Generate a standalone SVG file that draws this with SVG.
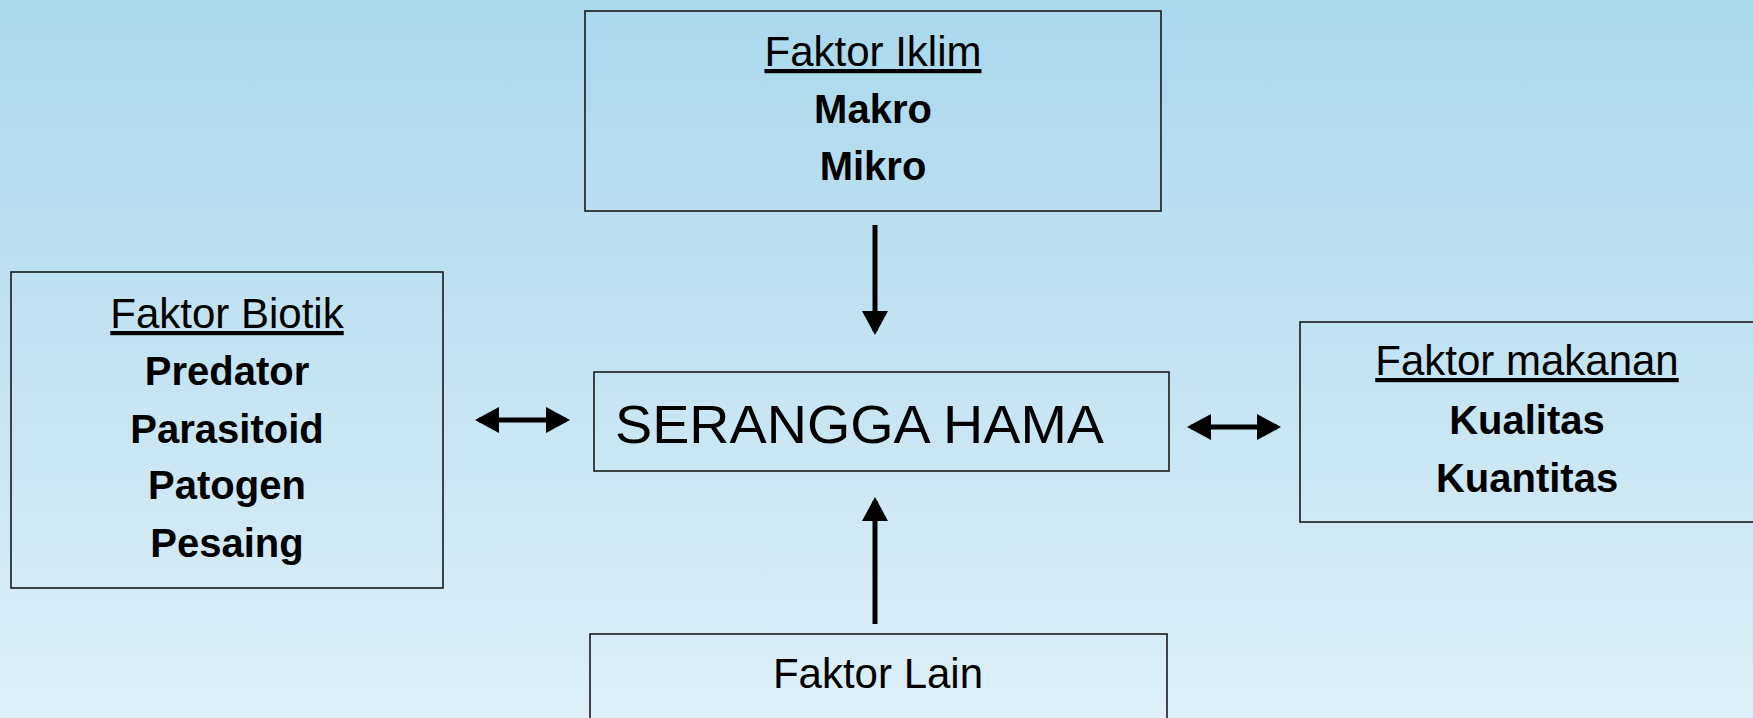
<svg xmlns="http://www.w3.org/2000/svg" width="1753" height="718" viewBox="0 0 1753 718">
<defs>
<linearGradient id="bg" x1="0" y1="0" x2="0" y2="1">
<stop offset="0" stop-color="#a9d8ec"/>
<stop offset="1" stop-color="#deeff8"/>
</linearGradient>
<marker id="ah" markerUnits="userSpaceOnUse" markerWidth="24" markerHeight="26" viewBox="0 0 24 26" refX="20" refY="13" orient="auto-start-reverse">
<path d="M0,0 L24,13 L0,26 z" fill="#000"/>
</marker>
<style>
.box{fill:none;stroke:#1a1a1a;stroke-width:1.6}
.t{font-family:"Liberation Sans",Arial,sans-serif;font-size:42px;fill:#000;text-anchor:middle}
.u{text-decoration:underline}
.b{font-family:"Liberation Sans",Arial,sans-serif;font-size:40px;font-weight:bold;fill:#000;text-anchor:middle}
.c{stroke:#000;stroke-width:5;fill:none}
</style>
</defs>
<rect x="0" y="0" width="1753" height="718" fill="url(#bg)"/>
<g id="faktor-iklim">
<rect class="box" x="585" y="11" width="576" height="200"/>
<text class="t u" x="873" y="66">Faktor Iklim</text>
<text class="b" x="873" y="123">Makro</text>
<text class="b" x="873" y="180">Mikro</text>
</g>
<g id="faktor-biotik">
<rect class="box" x="11" y="272" width="432" height="316"/>
<text class="t u" x="227" y="328">Faktor Biotik</text>
<text class="b" x="227" y="385">Predator</text>
<text class="b" x="227" y="443">Parasitoid</text>
<text class="b" x="227" y="499">Patogen</text>
<text class="b" x="227" y="557">Pesaing</text>
</g>
<g id="serangga-hama">
<rect class="box" x="594" y="372" width="575" height="99"/>
<text x="615" y="443" font-family="Liberation Sans, Arial, sans-serif" font-size="54" fill="#000" textLength="489" lengthAdjust="spacingAndGlyphs">SERANGGA HAMA</text>
</g>
<g id="faktor-makanan">
<rect class="box" x="1300" y="322" width="470" height="200"/>
<text class="t u" x="1527" y="375">Faktor makanan</text>
<text class="b" x="1527" y="434">Kualitas</text>
<text class="b" x="1527" y="492">Kuantitas</text>
</g>
<g id="faktor-lain">
<rect class="box" x="590" y="634" width="577" height="110"/>
<text class="t" x="878" y="688">Faktor Lain</text>
</g>
<g id="connectors">
<line class="c" x1="875" y1="225" x2="875" y2="331" marker-end="url(#ah)"/>
<line class="c" x1="875" y1="624" x2="875" y2="501" marker-end="url(#ah)"/>
<line class="c" x1="479" y1="420" x2="566" y2="420" marker-start="url(#ah)" marker-end="url(#ah)"/>
<line class="c" x1="1191" y1="427" x2="1277" y2="427" marker-start="url(#ah)" marker-end="url(#ah)"/>
</g>
</svg>
